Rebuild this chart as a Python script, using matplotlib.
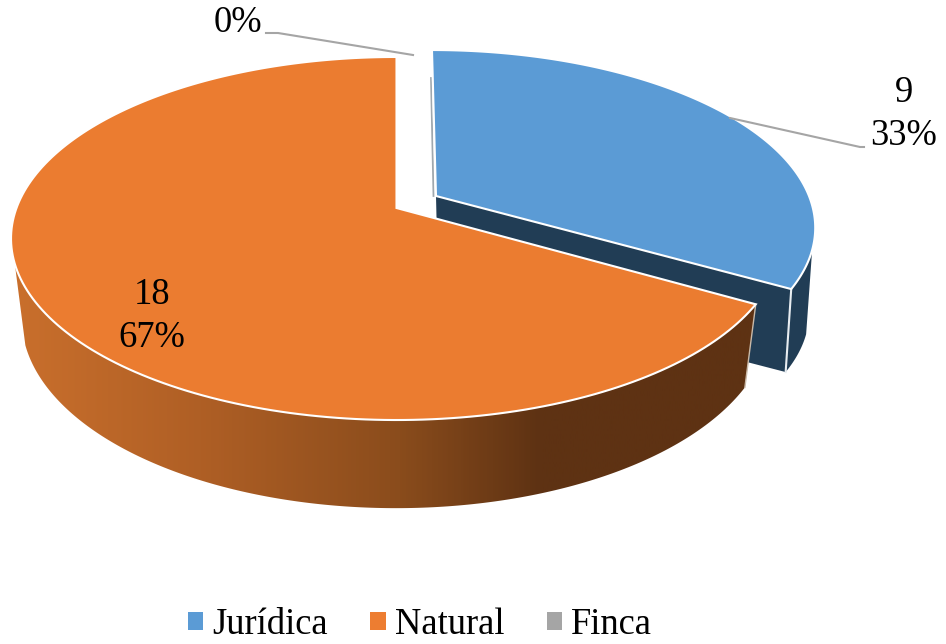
import numpy as np
import matplotlib
matplotlib.use('Agg')
import matplotlib.pyplot as plt
from matplotlib.colors import LinearSegmentedColormap
from matplotlib.patches import Patch, Polygon

# Datos
categorias = ['Jurídica', 'Natural', 'Finca']
valores = [9, 18, 0]
colores = ['#5B9BD5', '#ED7D31', '#A5A5A5']
azul_oscuro = '#213D55'

# Camera of the fake 3D pie: (a, b, g, f, s), in pixels
K = 0.168
NAT_TOP = (396.5, 208, 380, 176.4, 0)
NAT_BOT = (396, 287, 369, 184, 0)
JUR_TOP = (436, 196, 373, 170.5, -4.7)
JUR_BOT = (438, 282, 365, 165, -4.7)


def proj(cam, deg, r=1.0):
    a, b, g, f, s = cam
    th = np.radians(deg)
    u, v = r * np.sin(th), r * np.cos(th)
    den = 1 + K * v
    return np.column_stack([a + (g * u + s * v) / den, b - f * v / den])


def arco(cam, d0, d1):
    return proj(cam, np.linspace(d0, d1, 200))


total = sum(valores)
fin_jur = 360 * valores[0] / total
fin_nat = fin_jur + 360 * valores[1] / total

fig = plt.figure(figsize=(9.46, 6.44), dpi=100)
ax = fig.add_axes([0, 0, 1, 1])
serif = 'Liberation Serif'

# Juridica: outer wall, cut face and top
pared = np.vstack([arco(JUR_TOP, fin_jur - 12.5, fin_jur),
                   arco(JUR_BOT, fin_jur, fin_jur - 12.5)])
ax.add_patch(Polygon(pared, fc=azul_oscuro, ec='none', zorder=1))
cara = np.vstack([proj(JUR_TOP, np.array([fin_jur]), 0), proj(JUR_TOP, np.array([fin_jur])),
                  proj(JUR_BOT, np.array([fin_jur])), proj(JUR_BOT, np.array([fin_jur]), 0)])
ax.add_patch(Polygon(cara, fc=azul_oscuro, ec='none', zorder=2))
ax.plot(*np.vstack([proj(JUR_TOP, np.array([fin_jur])), proj(JUR_BOT, np.array([fin_jur]))]).T,
        color='#E8EDF1', lw=1.5, zorder=3)
tapa = np.vstack([proj(JUR_TOP, np.array([0.0]), 0), arco(JUR_TOP, 0, fin_jur)])
ax.add_patch(Polygon(tapa, fc=colores[0], ec='white', lw=1.5, zorder=4))

# Finca is 0, only a thin line next to Juridica
ax.plot([433.5, 431], [196, 78], color='#A0A8AE', lw=1.3, zorder=3)

# Natural: wall with gradient
pared = np.vstack([arco(NAT_TOP, fin_jur, 252.5), arco(NAT_BOT, 252.5, fin_jur)])
cmap = LinearSegmentedColormap.from_list('pared', [
    (0.0, '#C96F2C'), (0.25, '#AF5F25'), (0.52, '#8A4C1C'),
    (0.71, '#5E3213'), (1.0, '#5E3213')])
clip = Polygon(pared, transform=ax.transData)
im = ax.imshow(np.linspace(0, 1, 400)[None, :], cmap=cmap, aspect='auto',
               extent=[15, 755, 644, 0], zorder=5)
im.set_clip_path(clip)
ax.plot(*np.vstack([proj(NAT_TOP, np.array([fin_jur])), proj(NAT_BOT, np.array([fin_jur]))]).T,
        color='#C9B9A8', lw=1, zorder=6)
tapa = np.vstack([proj(NAT_TOP, np.array([fin_jur]), 0), arco(NAT_TOP, fin_jur, fin_nat)])
ax.add_patch(Polygon(tapa, fc='#EB7C30', ec='white', lw=1.5, zorder=7))

# Etiquetas
gris = '#A5A5A5'
ax.plot([730, 860, 864], [118, 147, 147], color=gris, lw=1.5, zorder=8)
ax.plot([266, 278, 413], [33, 33, 55], color=gris, lw=1.5, zorder=8)
fs = 26.3
ax.text(904, 114, f'{valores[0]}\n{valores[0] / total:.0%}', ha='center', va='center',
        fontsize=fs, family=serif, linespacing=1.32, zorder=9)
ax.text(152, 316, f'{valores[1]}\n{valores[1] / total:.0%}', ha='center', va='center',
        fontsize=fs, family=serif, linespacing=1.32, zorder=9)
ax.text(238, 23, f'{valores[2] / total:.0%}', ha='center', va='center',
        fontsize=fs, family=serif, zorder=9)

ax.set_xlim(0, 946)
ax.set_ylim(644, 0)
ax.axis('off')

handles = [Patch(fc=c, ec='none') for c in colores]
fig.legend(handles, categorias, ncol=3, loc='lower center', bbox_to_anchor=(0.444, -0.048),
           frameon=False, prop={'family': serif, 'size': fs}, handlelength=0.42, handleheight=0.42,
           handletextpad=0.26, columnspacing=1.15)

plt.savefig('out.png', dpi=100)
